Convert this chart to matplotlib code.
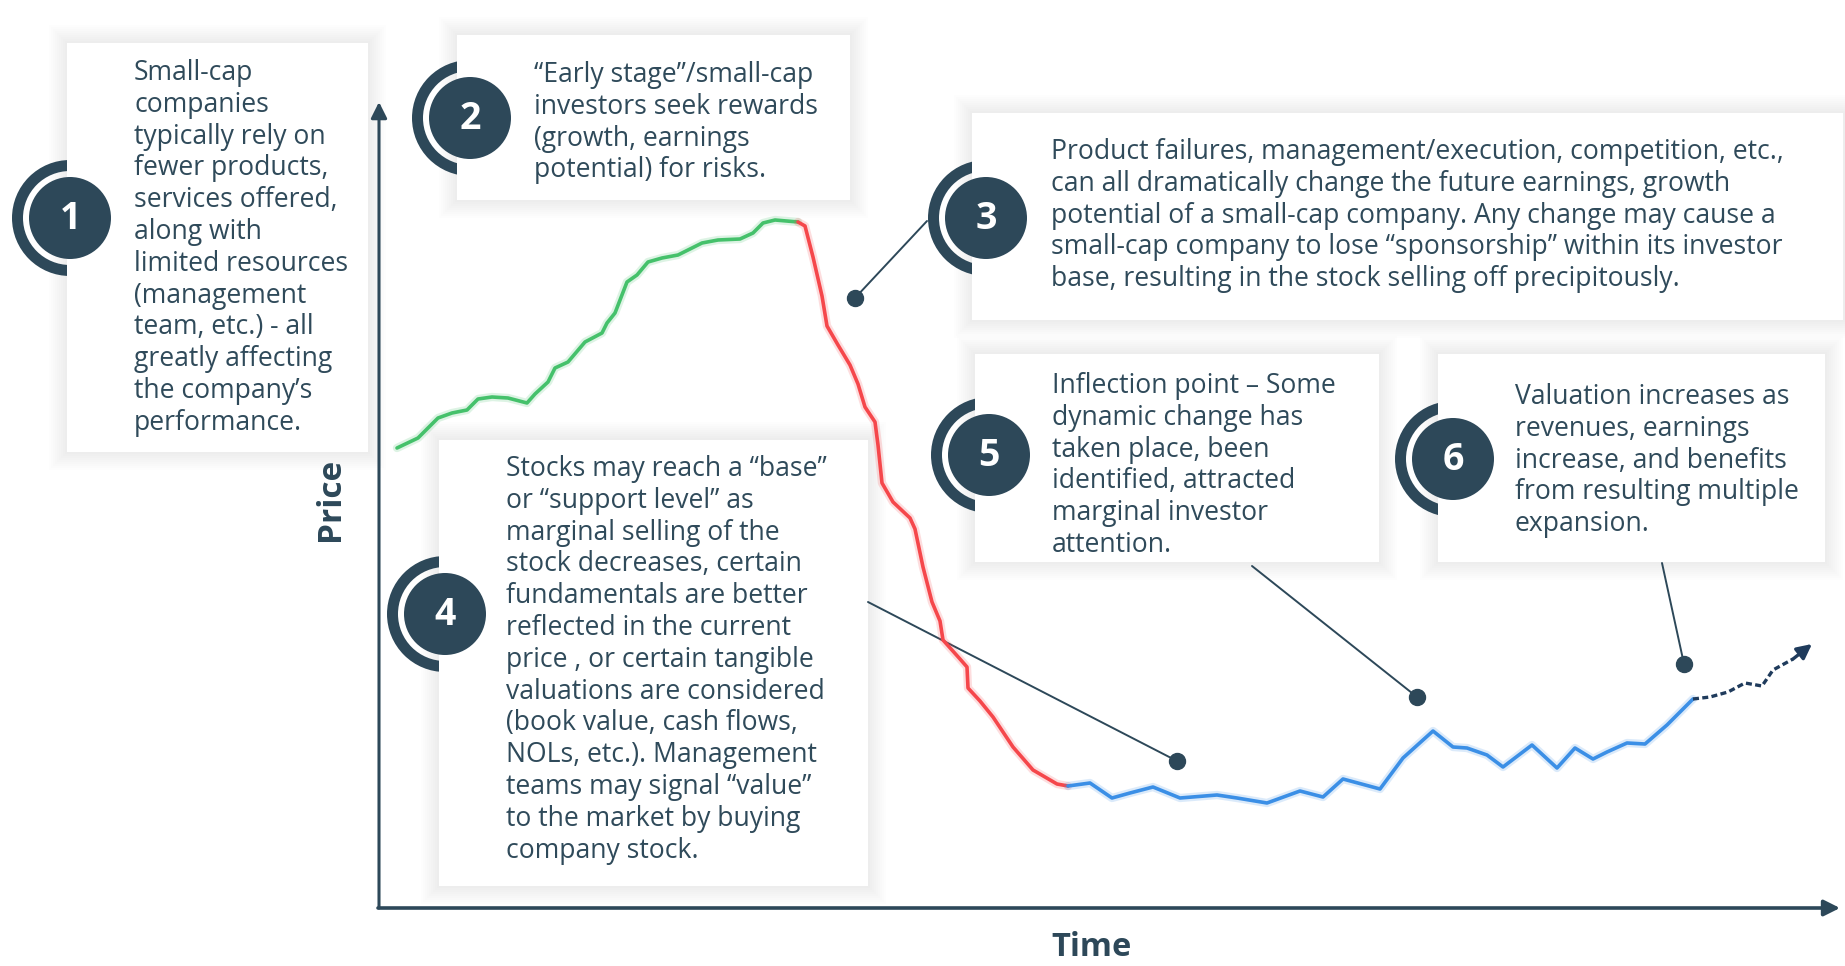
import matplotlib.pyplot as plt
from matplotlib.patches import Rectangle, Circle, Wedge, ConnectionPatch

plt.rcParams["font.family"] = ["Open Sans", "DejaVu Sans"]

DARK = "#2d4859"
TEXT = "#2f4a5a"

# price path (time, price in chart units, origin at axes corner)
rise_t = [18, 39, 59, 73, 88, 99, 113, 129, 148, 156, 169, 176, 189, 206, 223, 228,
          236, 248, 258, 269, 283, 299, 323, 339, 361, 374, 384, 396, 419]
rise_p = [459, 469, 489, 494, 497, 508, 510, 509, 504, 513, 525, 539, 545, 565, 574, 584,
          594, 625, 632, 645, 649, 652, 664, 667, 668, 674, 684, 687, 685]

fall_t = [419, 426, 434, 443, 448, 459, 471, 479, 486, 496, 499, 503, 514, 531, 536, 544,
          553, 561, 564, 581, 588, 589, 601, 614, 634, 654, 678, 689]
fall_p = [685, 681, 650, 611, 581, 562, 542, 523, 500, 485, 462, 424, 405, 389, 378, 340,
          305, 286, 267, 248, 240, 219, 206, 190, 160, 137, 123, 121]

base_t = [689, 711, 733, 751, 774, 801, 838, 858, 888, 921, 944, 964, 1001, 1024, 1054,
          1074, 1088, 1108, 1124, 1153, 1178, 1196, 1214, 1228, 1248, 1266, 1288, 1314]
base_p = [121, 124, 109, 114, 120, 109, 112, 109, 104, 116, 110, 128, 118, 149, 176,
          160, 159, 152, 140, 162, 139, 159, 148, 155, 164, 163, 182, 208]

proj_t = [1314, 1331, 1349, 1366, 1383, 1394, 1414, 1433]
proj_p = [208, 210, 215, 224, 221, 237, 248, 263]

# where each callout touches the chart (notes 3, 4, 5, 6)
callout_t = [476, 798, 1038, 1305]
callout_p = [609, 146, 210, 243]

notes = [
    ["Small-cap", "companies", "typically rely on", "fewer products,", "services offered,",
     "along with", "limited resources", "(management", "team, etc.) - all",
     "greatly affecting", "the company\u2019s", "performance."],
    ["\u201cEarly stage\u201d/small-cap", "investors seek rewards", "(growth, earnings",
     "potential) for risks."],
    ["Product failures, management/execution, competition, etc.,",
     "can all dramatically change the future earnings, growth",
     "potential of a small-cap company. Any change may cause a",
     "small-cap company to lose \u201csponsorship\u201d within its investor",
     "base, resulting in the stock selling off precipitously."],
    ["Stocks may reach a \u201cbase\u201d", "or \u201csupport level\u201d as", "marginal selling of the",
     "stock decreases, certain", "fundamentals are better", "reflected in the current",
     "price , or certain tangible", "valuations are considered", "(book value, cash flows,",
     "NOLs, etc.). Management", "teams may signal \u201cvalue\u201d", "to the market by buying",
     "company stock."],
    ["Inflection point \u2013 Some", "dynamic change has", "taken place, been",
     "identified, attracted", "marginal investor", "attention."],
    ["Valuation increases as", "revenues, earnings", "increase, and benefits",
     "from resulting multiple", "expansion."],
]

# layout in pixels: box (x0, y0, x1, y1), badge centre, text left, first baseline
layout = [
    ((67, 43, 368, 452), (70, 218), 134, 80),
    ((457, 35, 850, 200), (470, 118), 534, 82),
    ((972, 113, 1843, 320), (986, 218), 1051, 159),
    ((439, 440, 868, 886), (445, 614), 506, 476),
    ((975, 354, 1379, 562), (989, 455), 1052, 393),
    ((1438, 354, 1825, 562), (1453, 459), 1515, 404),
]
callout_start = [(927, 221), (868, 602), (1252, 566), (1662, 563)]

fig = plt.figure(figsize=(18.45, 9.66), dpi=100)
fig.patch.set_facecolor("white")

bg = fig.add_axes([0, 0, 1, 1])
bg.set_xlim(0, 1845)
bg.set_ylim(966, 0)
bg.axis("off")

for i, ((x0, y0, x1, y1), (cx, cy), tx, ty) in enumerate(layout):
    # soft shadow
    for k in range(1, 10):
        bg.add_patch(Rectangle((x0 - 2 * k, y0 - 2 * k), x1 - x0 + 4 * k, y1 - y0 + 4 * k,
                               facecolor="#9aa3a8", edgecolor="none", alpha=0.016, zorder=1))
    bg.add_patch(Wedge((cx, cy), 58, 90, 270, width=11, facecolor=DARK,
                       edgecolor="none", zorder=2))
    bg.add_patch(Rectangle((x0, y0), x1 - x0, y1 - y0, facecolor="white",
                           edgecolor="none", zorder=3))
    bg.add_patch(Circle((cx, cy), 41, facecolor=DARK, edgecolor="none", zorder=4))
    bg.text(cx, cy + 1, str(i + 1), ha="center", va="center", color="white",
            fontsize=27, fontweight="bold", zorder=5)
    for j, line in enumerate(notes[i]):
        bg.text(tx, ty + 31.8 * j, line, ha="left", va="baseline", color=TEXT,
                fontsize=19.1, zorder=5)

# axes with arrow heads
bg.annotate("", xy=(379, 102), xytext=(379, 908),
            arrowprops=dict(arrowstyle="-|>", color=DARK, lw=2.2, mutation_scale=24,
                            shrinkA=0, shrinkB=0), zorder=6)
bg.annotate("", xy=(1840, 908), xytext=(378, 908),
            arrowprops=dict(arrowstyle="-|>", color=DARK, lw=2.6, mutation_scale=24,
                            shrinkA=0, shrinkB=0), zorder=6)
bg.text(330, 499, "Price", rotation=90, ha="center", va="center", color=DARK,
        fontsize=24, fontweight="bold")
bg.text(1091, 947, "Time", ha="center", va="center", color=DARK,
        fontsize=23.5, fontweight="bold")

# chart area, origin at the axes corner
ax = fig.add_axes([379 / 1845, (966 - 907) / 966, 1459 / 1845, 803 / 966])
ax.set_xlim(0, 1459)
ax.set_ylim(0, 803)
ax.axis("off")
ax.patch.set_alpha(0)

for t, p, c in [(rise_t, rise_p, "#45c16b"), (fall_t, fall_p, "#f5474b"),
                (base_t, base_p, "#3b8fe6")]:
    ax.plot(t, p, color=c, lw=6, alpha=0.18, solid_capstyle="round",
            solid_joinstyle="round")
    ax.plot(t, p, color=c, lw=2.6, solid_capstyle="round", solid_joinstyle="round")
ax.plot(proj_t[:-1], proj_p[:-1], color="#1f3b5c", lw=2.4, ls=(0, (1.8, 1.0)))
ax.annotate("", xy=(proj_t[-1], proj_p[-1]), xytext=(proj_t[-2], proj_p[-2]),
            arrowprops=dict(arrowstyle="-|>", color="#1f3b5c", lw=2.4,
                            mutation_scale=22, shrinkA=0, shrinkB=0))

for (sx, sy), t, p in zip(callout_start, callout_t, callout_p):
    con = ConnectionPatch(xyA=(sx, sy), coordsA=bg.transData, xyB=(t, p),
                          coordsB=ax.transData, color=DARK, lw=1.4)
    ax.add_artist(con)
ax.plot(callout_t, callout_p, "o", color=DARK, ms=11.5, zorder=5)

fig.savefig("out.png", dpi=100)
